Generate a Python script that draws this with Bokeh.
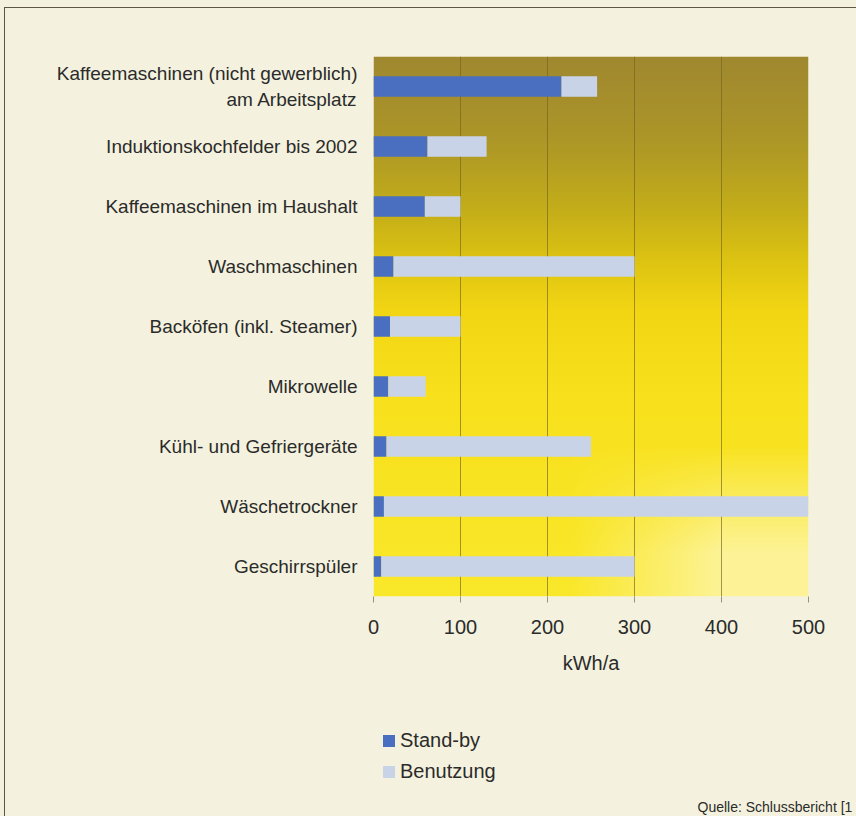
import numpy as np
from bokeh.plotting import figure
from bokeh.layouts import column
from bokeh.models import (FactorRange, Range1d, ColumnDataSource, FixedTicker,
                          Legend, LegendItem, Title, InlineStyleSheet)
from bokeh.embed import file_html
from bokeh.resources import INLINE

# ---- data (top to bottom as shown) ----
categories = [
    "Kaffeemaschinen (nicht gewerblich)\nam Arbeitsplatz",
    "Induktionskochfelder bis 2002",
    "Kaffeemaschinen im Haushalt",
    "Waschmaschinen",
    "Backöfen (inkl. Steamer)",
    "Mikrowelle",
    "Kühl- und Gefriergeräte",
    "Wäschetrockner",
    "Geschirrspüler",
]
standby = [216, 62, 59, 23, 19, 17, 15, 12, 9]
benutzung = [41, 68, 41, 277, 81, 43, 235, 488, 291]
x_ticks = [0, 100, 200, 300, 400, 500]
series_labels = ["Stand-by", "Benutzung"]
x_label = "kWh/a"
source_note = "Quelle: Schlussbericht [1"

FONT = "Liberation Sans"
TXT = "#2b2b2b"
CREAM = "#f4f2de"
COLORS = ["#4a6fc0", "#c9d3e8"]

src = ColumnDataSource(dict(cat=categories, standby=standby, benutzung=benutzung))

# ================= main chart =================
p = figure(
    width=856, height=690,
    y_range=FactorRange(*reversed(categories)),
    x_range=Range1d(0, 500),
    output_backend="svg", toolbar_location=None,
    min_border_left=373, min_border_right=48,
    min_border_top=56, min_border_bottom=94,
)
p.border_fill_color = CREAM
p.background_fill_color = CREAM
p.outline_line_color = None

# gradient background of the plot area
H, W = 540, 435
t = np.linspace(0, 1, H)[:, None]
xf = np.linspace(0, 1, W)[None, :]
ts = [0.0, 0.15, 0.28, 0.38, 0.47, 0.62, 1.0]
Rs = [160, 172, 195, 222, 242, 248, 250]
Gs = [136, 150, 173, 196, 214, 224, 232]
Bs = [48, 40, 26, 18, 20, 28, 42]
R = np.interp(t, ts, Rs) * np.ones_like(xf)
G = np.interp(t, ts, Gs) * np.ones_like(xf)
B = np.interp(t, ts, Bs) * np.ones_like(xf)
f = np.clip((xf - 0.45) / 0.35, 0, 1) * np.clip((t - 0.72) / 0.2, 0, 1)
R = R * (1 - f) + 253 * f
G = G * (1 - f) + 243 * f
B = B * (1 - f) + 150 * f
img = np.empty((H, W), dtype=np.uint32)
v = img.view(dtype=np.uint8).reshape((H, W, 4))
v[..., 0] = R.astype(np.uint8)
v[..., 1] = G.astype(np.uint8)
v[..., 2] = B.astype(np.uint8)
v[..., 3] = 255
img = img[::-1].copy()
p.image_rgba(image=[img], x=0, y=0, dw=500, dh=len(categories), level="image")

p.hbar_stack(["standby", "benutzung"], y="cat", height=0.34, source=src,
             color=COLORS, line_color=None)

p.xgrid.ticker = FixedTicker(ticks=x_ticks)
p.xgrid.grid_line_color = "#75641a"
p.xgrid.grid_line_alpha = 0.65
p.ygrid.grid_line_color = None

p.xaxis.ticker = FixedTicker(ticks=x_ticks)
p.xaxis.axis_line_color = None
p.xaxis.major_tick_line_color = "#9a9278"
p.xaxis.major_tick_out = 6
p.xaxis.major_tick_in = 0
p.xaxis.minor_tick_line_color = None
p.xaxis.major_label_text_font = FONT
p.xaxis.major_label_text_font_size = "20px"
p.xaxis.major_label_text_color = TXT
p.xaxis.major_label_standoff = 17
p.xaxis.axis_label = x_label
p.xaxis.axis_label_text_font = FONT
p.xaxis.axis_label_text_font_size = "20px"
p.xaxis.axis_label_text_font_style = "normal"
p.xaxis.axis_label_text_color = TXT
p.xaxis.axis_label_standoff = 15

p.yaxis.axis_line_color = None
p.yaxis.major_tick_line_color = None
p.yaxis.major_tick_out = 0
p.yaxis.major_tick_in = 0
p.yaxis.major_label_standoff = 16
p.yaxis.major_label_text_font = FONT
p.yaxis.major_label_text_font_size = "19px"
p.yaxis.major_label_text_color = TXT

# ================= legend + source strip =================
q = figure(
    width=856, height=126,
    y_range=FactorRange(*reversed(categories)),
    x_range=Range1d(0, 500),
    output_backend="svg", toolbar_location=None,
    x_axis_location=None, y_axis_location=None,
    min_border_left=373, min_border_right=48, min_border_top=0, min_border_bottom=20,
)
q.border_fill_color = CREAM
q.background_fill_color = CREAM
q.outline_line_color = CREAM
q.outline_line_width = 2
q.xgrid.visible = False
q.ygrid.visible = False

legend_bars = q.hbar_stack(["standby", "benutzung"], y="cat", height=0.34,
                           source=src, color=COLORS, line_color=None,
                           visible=False)

lg = Legend(items=[LegendItem(label=series_labels[i], renderers=[legend_bars[i]])
                   for i in range(2)],
            location=(8, 13), orientation="vertical")
lg.background_fill_alpha = 0
lg.border_line_color = None
lg.inactive_fill_alpha = 0
lg.padding = 0
lg.margin = 0
lg.glyph_width = 15
lg.glyph_height = 15
lg.label_standoff = 4
lg.spacing = 8
lg.label_height = 22
lg.label_text_font = FONT
lg.label_text_font_size = "20px"
lg.label_text_color = TXT
q.add_layout(lg)

q.add_layout(Title(text=source_note, align="left", offset=324, standoff=0,
                   text_font=FONT, text_font_size="14px",
                   text_font_style="normal", text_color=TXT), "below")

layout = column(p, q, spacing=0)
layout.stylesheets = [InlineStyleSheet(css="""
:host { position: relative; background: #f4f2de; }
:host::after { content: ''; position: absolute; left: 4px; top: 7px; right: 0; bottom: 0;
  border-left: 1.5px solid #5d5545; border-top: 1.5px solid #5d5545;
  pointer-events: none; z-index: 10; }
""")]

open("out.html", "w").write(file_html(layout, INLINE))
